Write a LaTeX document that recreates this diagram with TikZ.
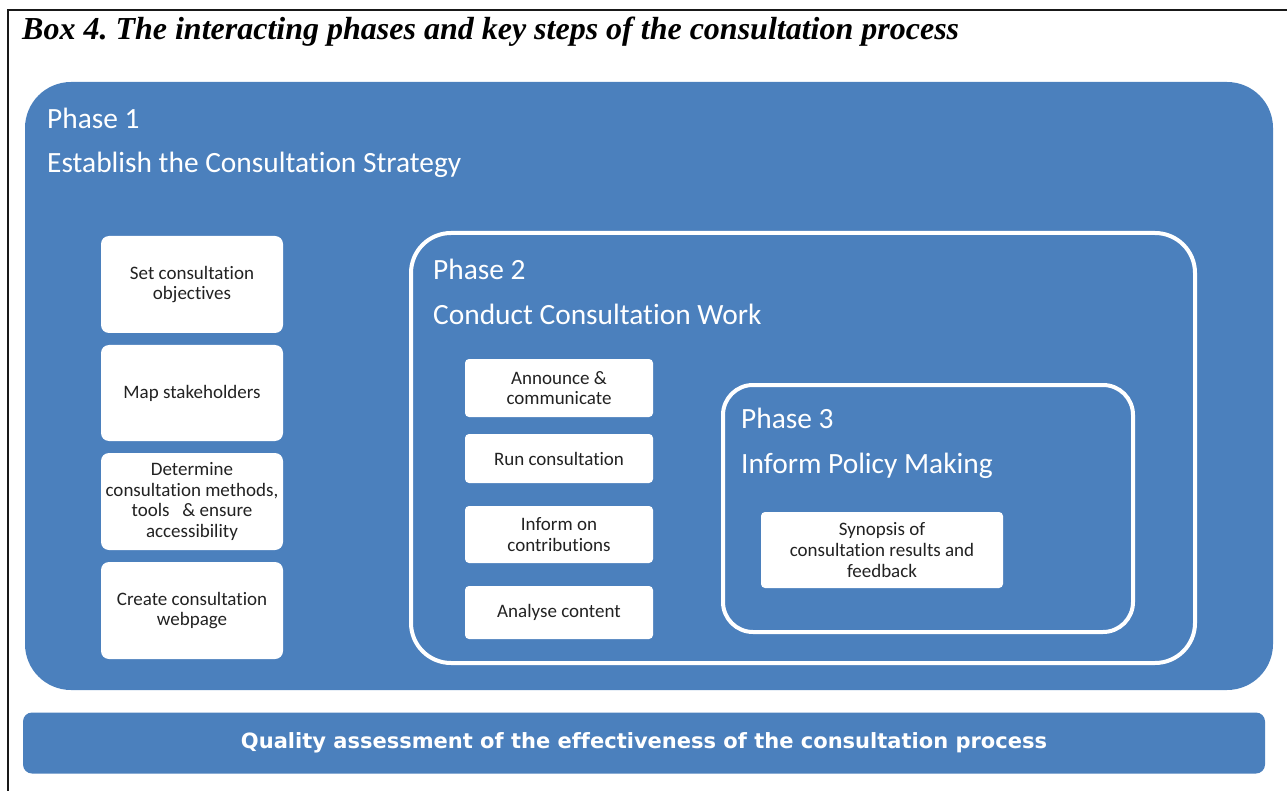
\documentclass[tikz,border=0pt]{standalone}
\usepackage{fontspec}
\setmainfont{Liberation Serif}
\newfontfamily\calfont[Ligatures={NoCommon,NoRequired}]{Carlito}
\newfontfamily\verdfont[Ligatures={NoCommon,NoRequired}]{DejaVu Sans}
\definecolor{phblue}{HTML}{4B80BD}
\definecolor{txtgray}{HTML}{222222}
\frenchspacing
\begin{document}
\begin{tikzpicture}[x=1pt,y=-1pt,
  phase/.style={fill=phblue,draw=white,line width=4pt},
  stepbox/.style={fill=white,draw=none,rounded corners=8pt,text=txtgray,align=center,
     font=\calfont\fontsize{19}{20.7}\selectfont,inner sep=0pt},
  phtitle/.style={anchor=base west,text=white,inner sep=0pt,font=\calfont\fontsize{29.4}{34}\selectfont}]
\useasboundingbox (0,0) rectangle (1287,791);
% frame
\draw[line width=2pt,black!90] (8,791) -- (8,10) -- (1287,10);
\node[anchor=base west,inner sep=0pt,font=\bfseries\itshape\fontsize{32}{36}\selectfont] (title) at (22,40) {Box 4. The interacting phases and key steps of the consultation process};
% phase 1
\fill[phblue,rounded corners=46pt] (25,82) rectangle (1273,690);
\node[phtitle] (p1a) at (47,129) {Phase 1};
\node[phtitle] (p1b) at (47,173) {Establish the Consultation Strategy};
\node[stepbox,minimum width=182pt,minimum height=97pt] (s1) at (192,284.5) {Set consultation\\objectives};
\node[stepbox,minimum width=182pt,minimum height=96pt] (s2) at (192,393) {Map stakeholders};
\node[stepbox,minimum width=182pt,minimum height=97pt] (s3) at (192,501.5) {Determine\\consultation methods,\\tools\ \ \ \& ensure\\accessibility};
\node[stepbox,minimum width=182pt,minimum height=97pt] (s4) at (192,610.5) {Create consultation\\webpage};
% phase 2
\draw[phase,rounded corners=40pt] (411,233) rectangle (1195,663);
\node[phtitle] (p2a) at (433,280) {Phase 2};
\node[phtitle] (p2b) at (433,325) {Conduct Consultation Work};
\node[stepbox,rounded corners=4pt,minimum width=188pt,minimum height=58pt] (c1) at (559,388) {Announce \&\\communicate};
\node[stepbox,rounded corners=4pt,minimum width=188pt,minimum height=49pt] (c2) at (559,458.5) {Run consultation};
\node[stepbox,rounded corners=4pt,minimum width=188pt,minimum height=57pt] (c3) at (559,534.5) {Inform on\\contributions};
\node[stepbox,rounded corners=4pt,minimum width=188pt,minimum height=53pt] (c4) at (559,612.5) {Analyse content};
% phase 3
\draw[phase,rounded corners=30pt] (723,385) rectangle (1133,632);
\node[phtitle] (p3a) at (741,428) {Phase 3};
\node[phtitle] (p3b) at (741,473) {Inform Policy Making};
\node[stepbox,rounded corners=4pt,minimum width=242pt,minimum height=76pt] (i1) at (882,550) {Synopsis of\\consultation results and\\feedback};
% quality
\node[fill=phblue,rounded corners=9pt,minimum width=1242pt,minimum height=61pt,inner sep=0pt,
  text=white,font=\verdfont\bfseries\fontsize{21}{24}\selectfont] (q) at (644,743) {Quality assessment of the effectiveness of the consultation process};
\end{tikzpicture}
\end{document}
